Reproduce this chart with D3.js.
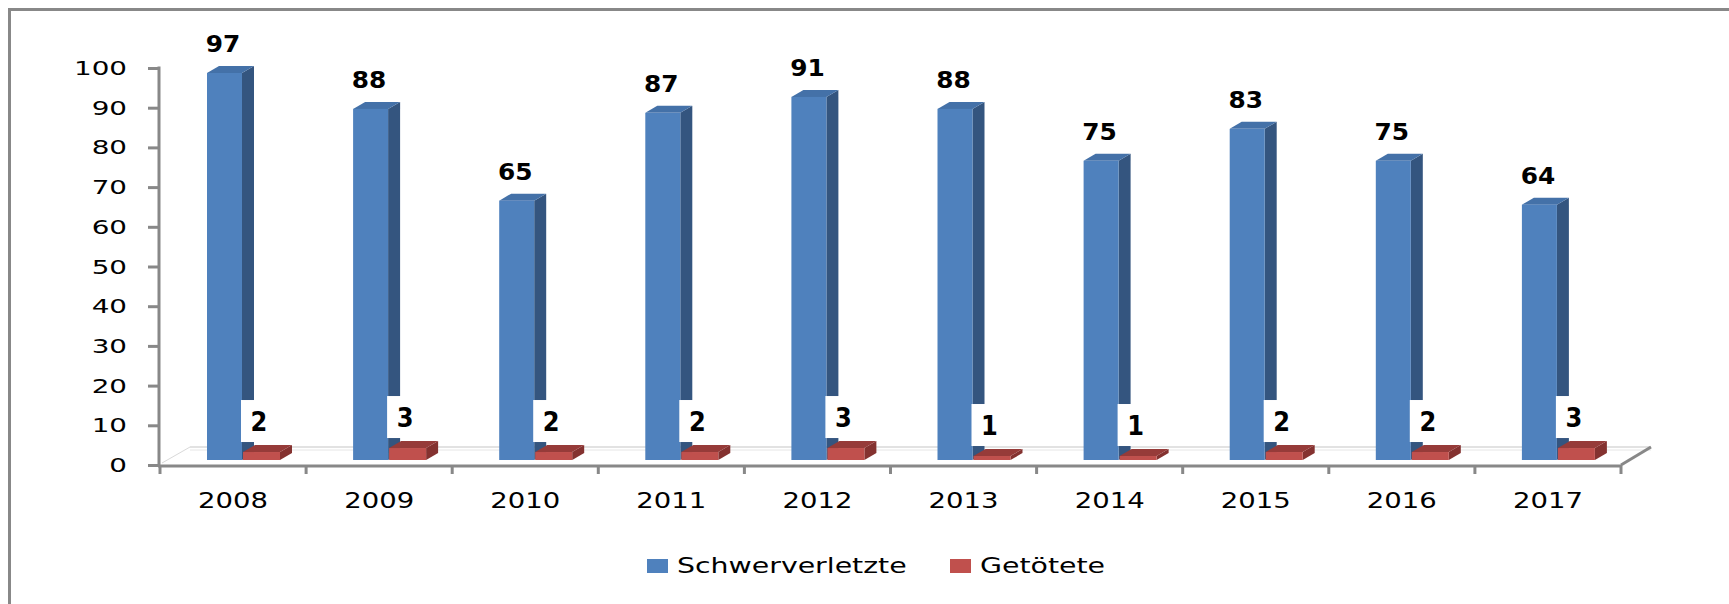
<!DOCTYPE html>
<meta charset="utf-8">
<style>
body { margin: 0; background: #fff; }
text { font-family: "DejaVu Sans", Verdana, sans-serif; fill: #000; }
.val { font-weight: bold; font-size: 23px; }
</style>
<svg width="1729" height="604" id="chart"></svg>
<script src="https://d3js.org/d3.v7.min.js"></script>
<script>
var years = ["2008","2009","2010","2011","2012","2013","2014","2015","2016","2017"];
var schwerverletzte = [97, 88, 65, 87, 91, 88, 75, 83, 75, 64];
var getoetete = [2, 3, 2, 2, 3, 1, 1, 2, 2, 3];
var seriesNames = ["Schwerverletzte", "Getötete"];
var yTicks = [0,10,20,30,40,50,60,70,80,90,100];

var svg = d3.select("#chart");

// outer frame (runs off right/bottom edge like the source)
svg.append("rect")
  .attr("x", 9.5).attr("y", 9.5)
  .attr("width", 1760).attr("height", 640)
  .attr("fill", "none").attr("stroke", "#888").attr("stroke-width", 3);

var x = d3.scaleBand().domain(years).range([160, 1621]);
var xSub = d3.scaleBand().domain(seriesNames).range([47, 119]);
var y = d3.scaleLinear().domain([0, 100]).range([465, 68]);       // axis
var yFront = d3.scaleLinear().domain([0, 100]).range([460, 61]);  // bar front faces

var colors = {
  "Schwerverletzte": {front: "#4F81BD", side: "#34557F", top: "#4471A8"},
  "Getötete": {front: "#C0504D", side: "#843230", top: "#963B39"}
};
var dx = 12, dy = -7;

// floor
var floor = svg.append("g");
floor.append("line").attr("x1", 190).attr("x2", 1651).attr("y1", y(0) - 18).attr("y2", y(0) - 18)
  .attr("stroke", "#d9d9d9").attr("stroke-width", 1.5);
floor.append("line").attr("x1", 190).attr("x2", 1651).attr("y1", y(0) - 15).attr("y2", y(0) - 15)
  .attr("stroke", "#e6e6e6").attr("stroke-width", 1);
floor.append("line").attr("x1", 162).attr("x2", 190).attr("y1", y(0) - 2).attr("y2", y(0) - 18)
  .attr("stroke", "#d9d9d9").attr("stroke-width", 1);
floor.append("line").attr("x1", 1621).attr("x2", 1651).attr("y1", y(0)).attr("y2", y(0) - 18)
  .attr("stroke", "#888").attr("stroke-width", 3);

// axes
var yAxis = d3.axisLeft(y).tickValues(yTicks).tickSize(11).tickFormat("");
var gy = svg.append("g").attr("transform", "translate(159,0)").call(yAxis);
gy.select(".domain").remove();
gy.selectAll("line").attr("stroke", "#888").attr("stroke-width", 3);
gy.append("line").attr("x1", 0).attr("x2", 0).attr("y1", y(100) - 1.5).attr("y2", y(0) + 1.5)
  .attr("stroke", "#888").attr("stroke-width", 3);

svg.append("g").selectAll("text").data(yTicks).enter().append("text")
  .attr("transform", d => "translate(127," + (y(d) + 7) + ") scale(1.39,1)")
  .attr("text-anchor", "end").style("font-size", "20px")
  .text(d => d);

var gx = svg.append("g").attr("transform", "translate(0," + (y(0) + 1) + ")");
gx.append("line").attr("x1", 158).attr("x2", 1622).attr("y1", 0).attr("y2", 0)
  .attr("stroke", "#888").attr("stroke-width", 3);
var tickXs = years.map(d => x(d)).concat([x.range()[1]]);
gx.selectAll(".tk").data(tickXs).enter().append("line")
  .attr("x1", d => d).attr("x2", d => d).attr("y1", 0).attr("y2", 8)
  .attr("stroke", "#888").attr("stroke-width", 3);
gx.selectAll("text").data(years).enter().append("text")
  .attr("transform", d => "translate(" + (x(d) + x.bandwidth() / 2) + ",42) scale(1.25,1)")
  .attr("text-anchor", "middle").style("font-size", "22px")
  .text(d => d);

// 3d bars
function bar3d(g, x0, w, v, c) {
  var x1 = x0 + w, yt = yFront(v), yb = yFront(0);
  g.append("polygon")
    .attr("points", [[x1, yt], [x1 + dx, yt + dy], [x1 + dx, yb + dy], [x1, yb]].join(" "))
    .attr("fill", c.side);
  g.append("polygon")
    .attr("points", [[x0, yt], [x0 + dx, yt + dy], [x1 + dx, yt + dy], [x1, yt]].join(" "))
    .attr("fill", c.top);
  g.append("rect").attr("x", x0).attr("y", yt).attr("width", w).attr("height", yb - yt)
    .attr("fill", c.front);
}

var groups = svg.append("g").selectAll("g").data(years).enter().append("g");
groups.each(function(d, i) {
  var g = d3.select(this);
  var bx = x(d) + xSub("Schwerverletzte");
  var rx = x(d) + xSub("Getötete");
  bar3d(g, bx, xSub.bandwidth() - 1, schwerverletzte[i], colors["Schwerverletzte"]);
  bar3d(g, rx, xSub.bandwidth() + 1, getoetete[i], colors["Getötete"]);

  g.append("text").attr("class", "val")
    .attr("transform", "translate(" + (bx + xSub.bandwidth() / 2 - 2) + "," + (yFront(schwerverletzte[i]) - 21) + ") scale(1.08,1)")
    .attr("text-anchor", "middle")
    .text(schwerverletzte[i]);

  var cx = rx + xSub.bandwidth() / 2;
  var by = yFront(getoetete[i]) - 10;
  g.append("rect").attr("x", cx - 20).attr("y", by - 42).attr("width", 35).attr("height", 42)
    .attr("fill", "#fff");
  g.append("text").attr("class", "val")
    .attr("transform", "translate(" + (cx - 2) + "," + (by - 11) + ") scale(1.05,1.15)")
    .attr("text-anchor", "middle")
    .text(getoetete[i]);
});

// legend
var legend = svg.append("g");
var legX = [647, 950];
seriesNames.forEach(function(s, i) {
  legend.append("rect").attr("x", legX[i]).attr("y", 559).attr("width", 21).attr("height", 14)
    .attr("fill", colors[s].front);
  legend.append("text")
    .attr("transform", "translate(" + (legX[i] + 30) + ",573) scale(1.29,1)")
    .style("font-size", "22px")
    .text(s);
});
</script>
